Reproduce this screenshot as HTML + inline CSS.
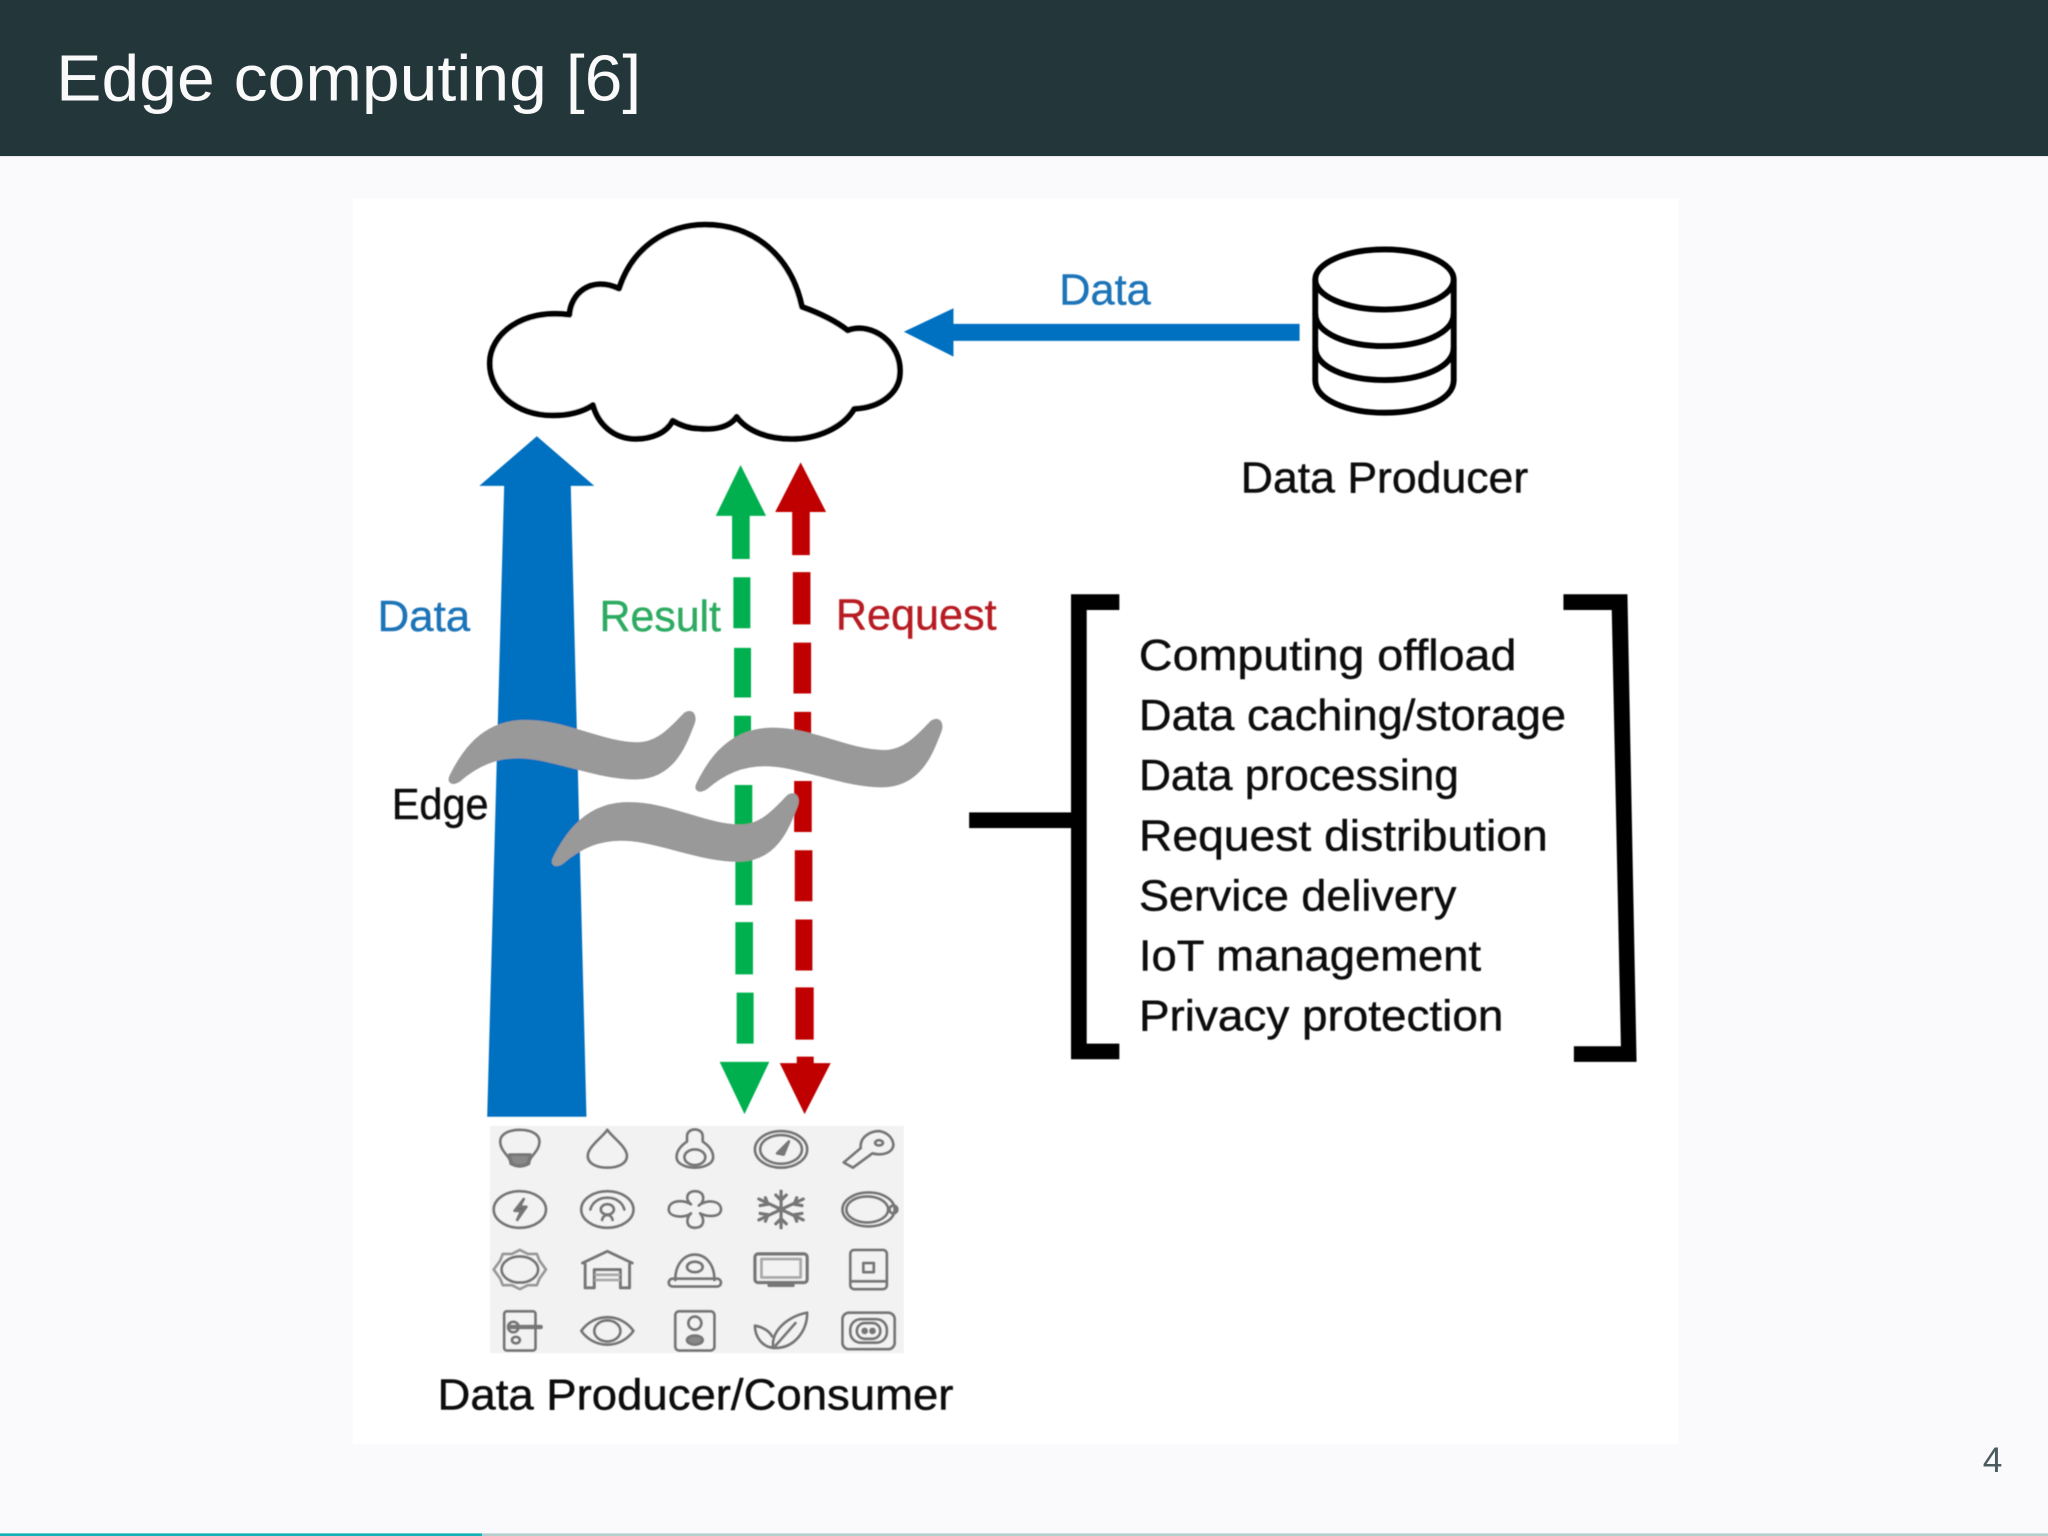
<!DOCTYPE html>
<html lang="en">
<head>
<meta charset="utf-8">
<title>Edge computing [6]</title>
<style>
html,body{margin:0;padding:0;background:#faf9fc;}
svg{display:block;width:2048px;height:1536px;}
text{font-family:"Liberation Sans",sans-serif;}
.t{font-size:33px;fill:#111;stroke:#111;stroke-width:.35px;}
.c{font-size:33px;stroke-width:.3px;}
</style>
</head>
<body>
<svg xmlns="http://www.w3.org/2000/svg" viewBox="0 0 1568 1176" width="2048" height="1536">
<defs>
<filter id="soft" x="-5%" y="-5%" width="110%" height="110%"><feGaussianBlur stdDeviation="0.45"/></filter>
<path id="wave" d="M346,594 C352,582 366,555 398,553 C430,551 460,570 488,570 C505,570 516,556 525,547 C530,544 532,549 530,554 C525,566 517,594 488,595 C460,596 425,580 400,579 C380,578 365,585 351,597 C346,600 344,598 346,594 Z" fill="#999" stroke="#999" stroke-width="3.500" stroke-linejoin="round"/>
</defs>
<rect width="1568" height="1176" fill="#faf9fc"/>
<rect x="0" y="0" width="1568" height="119.500" fill="#23373b"/>
<text x="43" y="77" font-size="50" fill="#fafafa" textLength="448" lengthAdjust="spacingAndGlyphs">Edge computing [6]</text>

<rect x="270" y="152" width="1015" height="954" fill="#ffffff"/>

<g filter="url(#soft)">
<!-- cloud -->
<path d="M474,221 C484,190 510,172 540,172 C578,172 606,197 614,235 C628,240 640,246 649,253 C668,246 690,263 689,285 C689,300 675,312 654,313 C645,328 625,336 606,336 C588,336 572,330 564,319 C558,328 545,329 535,328 C527,328 520,325 515,322 C510,332 498,336 487,336 C470,336 458,325 454,310 C445,316 435,318 423,318 C395,318 375,300 375,278 C375,256 400,236 436,241 C437,225 452,211 474,221 Z" fill="#fff" stroke="#000" stroke-width="4.500" stroke-linejoin="round"/>

<!-- database -->
<g fill="none" stroke="#000" stroke-width="4.500">
<ellipse cx="1060" cy="214" rx="53" ry="23"/>
<path d="M1007,214 V291 C1007,306 1031,316 1060,316 C1089,316 1113,306 1113,291 V214"/>
<path d="M1007,240 C1007,255 1031,265 1060,265 C1089,265 1113,255 1113,240"/>
<path d="M1007,266 C1007,281 1031,291 1060,291 C1089,291 1113,281 1113,266"/>
</g>

<!-- data arrow -->
<polygon points="692,254 730,236 730,248 995,248 995,261 730,261 730,273" fill="#0070c0"/>

<!-- big blue arrow -->
<polygon points="411,334 455,372 437,372 449,855 373,855 386,372 367,372" fill="#0070c0"/>

<!-- green dashed -->
<g fill="#00b050">
<polygon points="567,356 586.500,395 574,395 574,428 560.500,428 560.500,395 548,395"/>
<polygon points="561.500,442 574.500,442 574.500,481 561.500,481"/>
<polygon points="562,496 575,496 575,534 562,534"/>
<polygon points="562,548 575,548 575,587 562,587"/>
<polygon points="562.500,601 576,601 576,640 562.500,640"/>
<polygon points="563,653 576,653 576,693 563,693"/>
<polygon points="563,706 576.500,706 576.500,746 563,746"/>
<polygon points="564,760 577,760 577,799 564,799"/>
<polygon points="551,813 589,813 570,853"/>
</g>
<!-- red dashed -->
<g fill="#c00000">
<polygon points="613,354 632.500,392 620,392 620,425 606.500,425 606.500,392 593.500,392"/>
<polygon points="607,438 620.500,438 620.500,478 607,478"/>
<polygon points="607.500,492 621,492 621,531 607.500,531"/>
<polygon points="608,545 621,545 621,585 608,585"/>
<polygon points="608,598 621.500,598 621.500,637 608,637"/>
<polygon points="608.500,651 622,651 622,690 608.500,690"/>
<polygon points="609,704 622,704 622,743 609,743"/>
<polygon points="609,756 623,756 623,796 609,796"/>
<polygon points="610,809 623,809 623,814 636,814 616,853 597,814 610,814"/>
</g>

<!-- waves -->
<use href="#wave"/>
<use href="#wave" transform="translate(189,6)"/>
<use href="#wave" transform="translate(79,63)"/>

<!-- brackets -->
<g fill="#000">
<rect x="742" y="622" width="80" height="12"/>
<polygon points="820,455 857,455 857,467 832,467 832,799 857,799 857,811 820,811"/>
<polygon points="1197,455 1246,455 1253,813 1205,813 1205,801 1241,801 1234,467 1197,467"/>
</g>

<!-- labels -->
<text x="811" y="233" class="c" fill="#1f74b8" stroke="#1f74b8" textLength="70" lengthAdjust="spacingAndGlyphs">Data</text>
<text x="950" y="377" class="t" textLength="220" lengthAdjust="spacingAndGlyphs">Data Producer</text>
<text x="289" y="483" class="c" fill="#1f74b8" stroke="#1f74b8" textLength="71" lengthAdjust="spacingAndGlyphs">Data</text>
<text x="459" y="483" class="c" fill="#2dab62" stroke="#2dab62" textLength="93" lengthAdjust="spacingAndGlyphs">Result</text>
<text x="640" y="482" class="c" fill="#b71c24" stroke="#b71c24" textLength="123" lengthAdjust="spacingAndGlyphs">Request</text>
<text x="300" y="627" class="t" textLength="74" lengthAdjust="spacingAndGlyphs">Edge</text>

<text x="872" y="513" class="t" textLength="289" lengthAdjust="spacingAndGlyphs">Computing offload</text>
<text x="872" y="559" class="t" textLength="327" lengthAdjust="spacingAndGlyphs">Data caching/storage</text>
<text x="872" y="605" class="t" textLength="245" lengthAdjust="spacingAndGlyphs">Data processing</text>
<text x="872" y="651" class="t" textLength="313" lengthAdjust="spacingAndGlyphs">Request distribution</text>
<text x="872" y="697" class="t" textLength="243" lengthAdjust="spacingAndGlyphs">Service delivery</text>
<text x="872" y="743" class="t" textLength="262" lengthAdjust="spacingAndGlyphs">IoT management</text>
<text x="872" y="789" class="t" textLength="279" lengthAdjust="spacingAndGlyphs">Privacy protection</text>
<text x="335" y="1079" class="t" textLength="395" lengthAdjust="spacingAndGlyphs">Data Producer/Consumer</text>

<!-- icons panel -->
<rect x="375" y="862" width="317" height="174" fill="#f2f2f2"/>
<g fill="none" stroke="#777" stroke-width="2.200" stroke-linejoin="round" stroke-linecap="round">
<!-- row 1 -->
<g transform="translate(398,880)"><path d="M-7,11 C-7,5 -15,2 -15,-6 C-15,-12 -8,-15 0,-15 C8,-15 15,-12 15,-6 C15,2 7,5 7,11 Q0,15 -7,11 Z"/><path d="M-8,4 H8 L6,11 Q0,14 -6,11 Z" fill="#888"/></g>
<g transform="translate(465,880)"><path d="M0,-15 C4,-9 15,-2 15,5 C15,11 8,14 0,14 C-8,14 -15,11 -15,5 C-15,-2 -4,-9 0,-15 Z"/></g>
<g transform="translate(532,880)"><path d="M-6,-6 V-10 C-6,-17 6,-17 6,-10 V-6 C12,-2 14,2 14,6 C14,11 7,14 0,14 C-7,14 -14,11 -14,6 C-14,2 -12,-2 -6,-6 Z"/><ellipse cx="0" cy="6" rx="8" ry="6"/></g>
<g transform="translate(598,880)"><ellipse rx="20" ry="14"/><ellipse rx="16" ry="11"/><path d="M-3,3 L6,-6 L2,4 Z" fill="#777"/></g>
<g transform="translate(665,880)"><path d="M-19,10 L-6,-1 C-7,-10 2,-14 8,-14 C15,-13 19,-8 19,-3 C18,3 10,5 3,3 L-12,14 Z"/><ellipse cx="8" cy="-5" rx="3" ry="2"/></g>
<!-- row 2 -->
<g transform="translate(398,926)"><ellipse rx="20" ry="14"/><path d="M3,-8 L-4,1 H1 L-2,8 L5,-2 H0 Z" fill="#666"/></g>
<g transform="translate(465,926)"><ellipse rx="20" ry="14"/><path d="M-13,0 C-10,-12 10,-12 13,0"/><ellipse cx="0" cy="0" rx="5" ry="4"/><path d="M-4,8 C-3,3 3,3 4,8"/></g>
<g transform="translate(532,926)"><path d="M-3,-4 C-8,-8 -6,-14 0,-14 C8,-14 8,-6 3,-3 C9,-8 20,-7 20,0 C20,6 10,6 4,3 C8,8 7,14 0,14 C-7,14 -7,7 -3,3 C-8,7 -20,6 -20,0 C-20,-7 -9,-8 -3,-4 Z"/></g>
<g transform="translate(598,926)" stroke-width="2.600"><path d="M0,-14 V14 M-17,-8 L17,8 M-17,8 L17,-8 M-4,-11 L0,-7 L4,-11 M-4,11 L0,7 L4,11 M-16,-3 L-10,-4 L-12,-9 M16,3 L10,4 L12,9 M-16,3 L-10,4 L-12,9 M16,-3 L10,-4 L12,-9"/></g>
<g transform="translate(665,926)"><ellipse rx="20" ry="13"/><ellipse cx="-1" cy="0" rx="16" ry="10"/><circle cx="19" cy="0" r="3"/></g>
<!-- row 3 -->
<g transform="translate(398,972)"><ellipse rx="14" ry="10"/><path stroke="#999" d="M0,-15 L6,-12 L13,-12 L15,-7 L20,0 L15,7 L13,12 L6,12 L0,15 L-6,12 L-13,12 L-15,7 L-20,0 L-15,-7 L-13,-12 L-6,-12 Z"/></g>
<g transform="translate(465,972)"><path d="M-19,-5 L0,-14 L19,-5 M-17,-4 V14 H-10 V0 H10 V14 H17 V-4" stroke-width="2.400"/><path d="M-9,4 H9 M-9,8 H9" stroke="#aaa"/></g>
<g transform="translate(532,972)"><path d="M-15,8 C-15,-18 15,-18 15,8"/><rect x="-20" y="7" width="40" height="6" rx="3"/><ellipse cx="0" cy="-2" rx="6" ry="4"/></g>
<g transform="translate(598,972)"><rect x="-20" y="-12" width="40" height="22" rx="2.500" stroke-width="2.600"/><rect x="-15" y="-8" width="30" height="14" stroke="#aaa"/><path d="M-9,12 H9" stroke-width="3"/></g>
<g transform="translate(665,972)"><rect x="-14" y="-15" width="28" height="30" rx="3"/><rect x="-4" y="-5" width="8" height="7"/><path d="M-13,9 H13"/></g>
<!-- row 4 -->
<g transform="translate(401,1019)"><rect x="-15" y="-15" width="24" height="30" rx="2"/><path d="M-10,-3 H13" stroke-width="3.500"/><circle cx="-8" cy="-3" r="4"/><ellipse cx="-6" cy="7" rx="3" ry="2.500"/></g>
<g transform="translate(465,1019)"><path d="M-20,0 C-10,-14 10,-14 20,0 C10,14 -10,14 -20,0 Z"/><ellipse rx="10" ry="8"/></g>
<g transform="translate(532,1019)"><rect x="-15" y="-15" width="30" height="30" rx="3"/><circle cx="0" cy="-6" r="5"/><ellipse cx="0" cy="7" rx="6" ry="3.500" fill="#888"/></g>
<g transform="translate(598,1019)"><path d="M-6,13 C-8,0 5,-11 20,-14 C20,0 10,14 -6,13 Z"/><path d="M-6,13 C-15,12 -20,4 -20,-4 C-14,-3 -9,0 -7,4"/><path d="M-4,11 L11,-6"/></g>
<g transform="translate(665,1019)"><rect x="-20" y="-14" width="40" height="28" rx="5"/><rect x="-14" y="-9" width="28" height="18" rx="8"/><rect x="-9" y="-6" width="18" height="12" rx="6"/><circle cx="-3" cy="0" r="1.500" fill="#777"/><circle cx="3" cy="0" r="1.500" fill="#777"/></g>
</g>
</g>

<!-- page number -->
<text x="1518" y="1127" font-size="27" fill="#4a5a5e" textLength="15" lengthAdjust="spacingAndGlyphs">4</text>

<!-- progress bar -->
<rect x="0" y="1174" width="1568" height="2" fill="#b4cfce"/>
<rect x="0" y="1174" width="369" height="2" fill="#14b1ba"/>
</svg>
</body>
</html>
